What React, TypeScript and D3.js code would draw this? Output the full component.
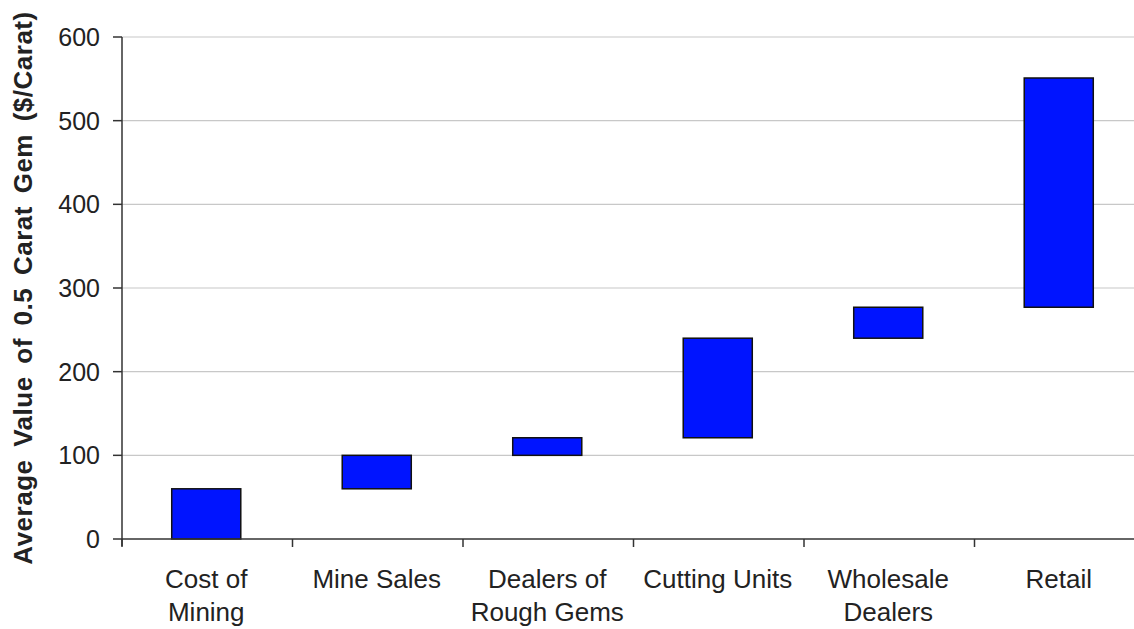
import React from "react";
import * as d3 from "d3";

const categories: string[][] = [
  ["Cost of", "Mining"],
  ["Mine Sales"],
  ["Dealers of", "Rough Gems"],
  ["Cutting Units"],
  ["Wholesale", "Dealers"],
  ["Retail"],
];
const lowValues = [0, 60, 100, 121, 240, 277];
const highValues = [60, 100, 121, 240, 277, 551];
const yTicks = [0, 100, 200, 300, 400, 500, 600];
const yLabel = "Average Value of 0.5 Carat Gem ($/Carat)";

const W = 1134;
const H = 629;
const left = 122;
const right = 1145;
const top = 37;
const bottom = 539;

export default function App() {
  const keys = categories.map((c) => c.join(" "));
  const x = d3.scaleBand<string>().domain(keys).range([left, right]).padding(0);
  const y = d3.scaleLinear().domain([0, 600]).range([bottom, top]);
  const barW = x.bandwidth() * 0.405;
  const font = "'Liberation Sans', Arial, sans-serif";
  const textColor = "#222";
  const tickPositions = d3.range(keys.length + 1).map((i) => left + i * x.step());
  const cx = (i: number) => (x(keys[i]) as number) + x.bandwidth() / 2 - 1;

  return (
    <svg
      width={W}
      height={H}
      style={{ position: "absolute", left: 0, top: 0, background: "#fff" }}
    >
      {yTicks.map((t) =>
        t === 0 ? null : (
          <line key={"g" + t} x1={left} x2={W} y1={y(t)} y2={y(t)} stroke="#c8c8c8" strokeWidth={1.2} />
        )
      )}
      {keys.map((k, i) => (
        <rect
          key={k}
          x={cx(i) - barW / 2}
          y={y(highValues[i])}
          width={barW}
          height={y(lowValues[i]) - y(highValues[i])}
          fill="#0014ff"
          stroke="#111"
          strokeWidth={1.5}
        />
      ))}
      <line x1={left} x2={left} y1={top} y2={bottom + 7} stroke="#333" strokeWidth={1.5} />
      <line x1={left} x2={W} y1={bottom} y2={bottom} stroke="#333" strokeWidth={1.5} />
      {yTicks.map((t) => (
        <g key={"t" + t}>
          <line x1={left - 9} x2={left} y1={y(t)} y2={y(t)} stroke="#333" strokeWidth={1.5} />
          <text
            x={100}
            y={y(t)}
            dy="0.36em"
            textAnchor="end"
            fontFamily={font}
            fontSize={25}
            fill={textColor}
          >
            {t}
          </text>
        </g>
      ))}
      {tickPositions.map((p, i) => (
        <line key={"xt" + i} x1={p} x2={p} y1={bottom} y2={bottom + 8} stroke="#333" strokeWidth={1.5} />
      ))}
      {categories.map((lines, i) => (
        <text
          key={"c" + i}
          x={cx(i)}
          y={588}
          textAnchor="middle"
          fontFamily={font}
          fontSize={26}
          fill={textColor}
        >
          {lines.map((l, j) => (
            <tspan key={j} x={cx(i)} dy={j === 0 ? 0 : 33}>
              {l}
            </tspan>
          ))}
        </text>
      ))}
      <text
        transform={`translate(32, 288) rotate(-90)`}
        textAnchor="middle"
        fontFamily={font}
        fontSize={26}
        fontWeight="bold"
        letterSpacing={0.5}
        wordSpacing={5}
        fill={textColor}
      >
        {yLabel}
      </text>
    </svg>
  );
}
